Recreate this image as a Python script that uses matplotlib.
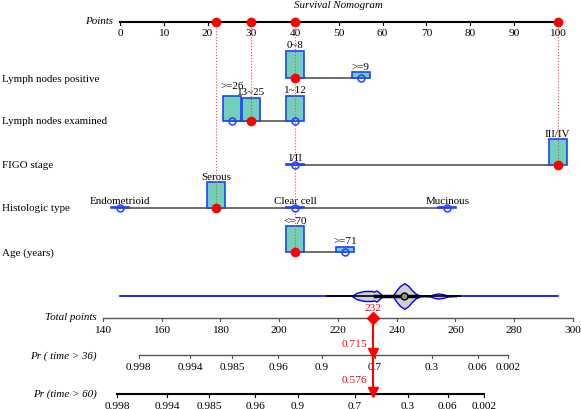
"""
survival nomogram with point scale, variable rows,
total points distribution and predicted survival probabilities
"""
import matplotlib.pyplot as plt
import numpy as np

plt.rcParams['font.family'] = ['Liberation Serif', 'DejaVu Serif']

#Points scale and total points scale
point_ticks = list(range(0, 101, 10))
total_ticks = list(range(140, 301, 20))

#Variables: level labels, points and relative frequency (bar height)
var_names = ["Lymph nodes positive", "Lymph nodes examined", "FIGO stage",
             "Histologic type", "Age (years)"]
lnp_levels = ["0~8", ">=9"]
lnp_points = [40, 55]
lnp_freq = [1.0, 0.22]
lne_levels = [">=26", "13~25", "1~12"]
lne_points = [25.6, 30, 40]
lne_freq = [0.93, 0.86, 0.93]
figo_levels = ["I/II", "III/IV"]
figo_points = [40, 100]
figo_freq = [0.0, 0.96]
hist_levels = ["Endometrioid", "Serous", "Clear cell", "Mucinous"]
hist_points = [0, 22, 40, 74.8]
hist_freq = [0.0, 0.96, 0.0, 0.0]
age_levels = ["<=70", ">=71"]
age_points = [40, 51.5]
age_freq = [0.96, 0.19]
#index of the patient's level in each variable
chosen = [0, 1, 1, 1, 0]

#Total points distribution (violin outline: total points, half width)
vio_x = [224.7, 226.4, 229.0, 231.6, 232.1, 233.2, 234.9, 236.0, 237.5, 238.8,
         240.0, 241.1, 242.6, 244.0, 245.1, 246.6, 247.9, 249.5, 251.3, 253.0,
         254.1, 255.8, 257.5, 259.0, 260.4]
vio_w = [0, 3.3, 5, 5, 4.3, 5.5, 1, 0.4, 0.3, 1,
         6, 10, 12.8, 10, 6, 2, 0.5, 0.3, 0.5, 2,
         2.5, 1.8, 0.5, 0.3, 0]
dist_range = [145.8, 294.8]
whisker = [216.2, 261.6]
box = [232.6, 246.8]
median_tp = 242.6

#Survival probability scales (tick labels and total point positions)
pr_labels = ["0.998", "0.994", "0.985", "0.96", "0.9", "0.7", "0.3", "0.06", "0.002"]
pr36_pos = [152.2, 169.6, 183.9, 199.6, 214.6, 232.6, 252.0, 267.6, 277.8]
pr60_pos = [144.8, 161.8, 176.1, 191.8, 206.4, 225.8, 243.7, 257.4, 269.6]
pred36 = 0.715
pred60 = 0.576

levels = [lnp_levels, lne_levels, figo_levels, hist_levels, age_levels]
points = [lnp_points, lne_points, figo_points, hist_points, age_points]
freqs = [lnp_freq, lne_freq, figo_freq, hist_freq, age_freq]

red = '#ff0000'
blue = '#2040ff'
teal = '#70d0b8'
fs = 7.9
tfs = 8.2

fig = plt.figure(figsize=[5.81, 4.10], dpi=100)
#upper axes in points, lower axes in total points, y in layout units
ax = fig.add_axes([0, 0, 1, 1])
ax.set_xlim(-120 / 4.377, 461 / 4.377)
ax.set_ylim(410, 0)
ax.axis('off')
bx = fig.add_axes([0, 0, 1, 1])
bx.set_xlim(140 - 103 / 2.9375, 140 + 478 / 2.9375)
bx.set_ylim(410, 0)
bx.axis('off')
bx.patch.set_alpha(0)

#Title and points axis
ax.text(50, 5, "Survival Nomogram", style='italic', fontsize=fs, ha='center', va='center')
ax.plot([0, 100], [23, 23], color='black', lw=1.5)
for t in point_ticks:
    ax.plot([t, t], [23, 26], color='black', lw=0.8)
    ax.text(t, 34, str(t), fontsize=tfs, ha='center', va='center')
ax.text(-1.6, 22, "Points", style='italic', fontsize=fs, ha='right', va='center')

rows_y = [79, 122, 166, 209, 253]
bar_h = 27
bar_w = 4.1
total = 0
deepest = {}
for i, name in enumerate(var_names):
    y = rows_y[i]
    ax.text(-27, y, name, fontsize=fs, ha='left', va='center')
    ax.plot([min(points[i]), max(points[i])], [y, y], color='#555555', lw=1.2, zorder=1)
    for j, lab in enumerate(levels[i]):
        h = max(freqs[i][j] * bar_h, 1.2)
        ax.bar(points[i][j], -h, width=bar_w, bottom=y, color=teal,
               edgecolor=blue, lw=1.2, zorder=2)
        dy = 4 if lab == ">=26" else 0
        ax.text(points[i][j], y - h - 1.5 - dy, lab, fontsize=fs,
                ha='center', va='bottom')
        if j == chosen[i]:
            ax.plot(points[i][j], y, 'o', color=red, ms=6, zorder=4)
            total += points[i][j]
            deepest[points[i][j]] = y
        else:
            ax.plot(points[i][j], y, 'o', mfc='none', mec=blue, ms=5, mew=1.1, zorder=4)

#red markers on points axis and dotted guide lines
for p, y in deepest.items():
    ax.plot([p, p], [23, y], color='#ff4040', lw=0.8, ls=':', zorder=3)
    ax.plot(p, 23, 'o', color=red, ms=6, zorder=4)

#Total points distribution
bx.plot(dist_range, [297, 297], color='#0000ff', lw=1.2, zorder=1)
vx = np.array(vio_x)
vw = np.array(vio_w)
bx.fill_between(vx, 297 - vw, 297 + vw, facecolor='#d0d0d0', edgecolor='#0000ff', lw=1, zorder=2)
bx.plot(whisker, [297, 297], color='black', lw=1.2, zorder=3)
bx.plot(box, [297, 297], color='black', lw=2.5, zorder=3)
bx.plot(median_tp, 297, 'o', mfc='#909090', mec='black', ms=5, zorder=4)

#Total points axis
bx.plot([140, 300], [319, 319], color='#555555', lw=1)
for t in total_ticks:
    bx.plot([t, t], [319, 322], color='#555555', lw=0.8)
    bx.text(t, 331, str(t), fontsize=tfs, ha='center', va='center')
ax.text(-5.3, 318, "Total points", style='italic', fontsize=fs, ha='right', va='center')

#Probability axes
for pos, y, col, lw in [(pr36_pos, 356, '#555555', 1), (pr60_pos, 395, 'black', 1.5)]:
    bx.plot([pos[0], pos[-1]], [y, y], color=col, lw=lw)
    for p, lab in zip(pos, pr_labels):
        bx.plot([p, p], [y, y + 3], color=col, lw=0.8)
        bx.text(p, y + 12, lab, fontsize=tfs, ha='center', va='center')
ax.text(-5.3, 356, "Pr ( time > 36)", style='italic', fontsize=fs, ha='right', va='center')
ax.text(-5.3, 394, "Pr (time > 60)", style='italic', fontsize=fs, ha='right', va='center')

#Patient prediction
bx.plot([total, total], [319, 395], color=red, lw=1.5, zorder=5)
bx.plot(total, 319, 'D', color=red, ms=6, zorder=6)
bx.plot(total, 354, 'v', color=red, ms=7, zorder=6)
bx.plot(total, 393, 'v', color=red, ms=7, zorder=6)
bx.text(total, 309, f"{total:.0f}", color=red, fontsize=tfs, ha='center', va='center')
bx.text(total - 2, 345, f"{pred36}", color=red, fontsize=tfs, ha='right', va='center')
bx.text(total - 2, 381, f"{pred60}", color=red, fontsize=tfs, ha='right', va='center')

plt.savefig("out.png", dpi=100)
